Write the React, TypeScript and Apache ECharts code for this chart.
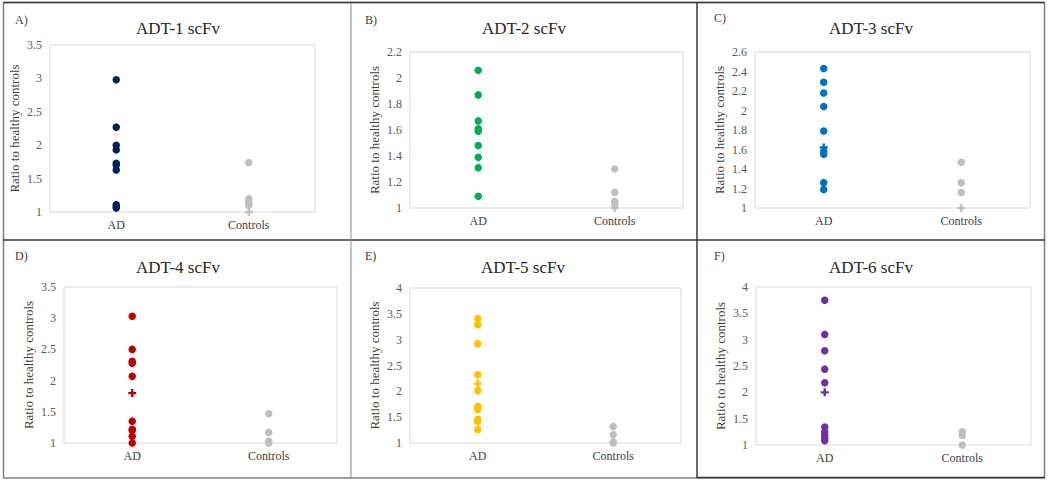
import React, { useEffect, useRef } from "react";
import * as echarts from "echarts";

const categories = ["AD", "Controls"];
const panelLetters = ["A)", "B)", "C)", "D)", "E)", "F)"];
const panelTitles = ["ADT-1 scFv", "ADT-2 scFv", "ADT-3 scFv", "ADT-4 scFv", "ADT-5 scFv", "ADT-6 scFv"];
const adColors = ["#002060", "#00B050", "#0070C0", "#C00000", "#FFC000", "#7030A0"];
const controlColor = "#BFBFBF";

const yMin = [1, 1, 1, 1, 1, 1];
const yMax = [3.5, 2.2, 2.6, 3.5, 4, 4];
const yStep = [0.5, 0.2, 0.2, 0.5, 0.5, 0.5];

const adA = [2.98, 2.27, 2.0, 1.93, 1.73, 1.7, 1.63, 1.11, 1.08, 1.06];
const adB = [2.06, 1.87, 1.67, 1.61, 1.59, 1.48, 1.39, 1.31, 1.09];
const adC = [2.43, 2.29, 2.18, 2.04, 1.79, 1.58, 1.55, 1.26, 1.19];
const adD = [3.03, 2.5, 2.31, 2.28, 2.07, 1.35, 1.22, 1.2, 1.11, 1.0];
const adE = [3.41, 3.29, 2.92, 2.32, 2.01, 1.71, 1.65, 1.46, 1.42, 1.26];
const adF = [3.75, 3.1, 2.79, 2.44, 2.18, 1.34, 1.25, 1.19, 1.13, 1.08];

const adCrossA: number[] = [];
const adCrossB: number[] = [];
const adCrossC = [1.62];
const adCrossD = [1.8];
const adCrossE = [2.15];
const adCrossF = [2.0];

const ctrlA = [1.74, 1.2, 1.17, 1.14, 1.1];
const ctrlB = [1.3, 1.12, 1.05, 1.03];
const ctrlC = [1.47, 1.26, 1.16];
const ctrlD = [1.47, 1.17, 1.03, 1.0];
const ctrlE = [1.32, 1.16, 1.02, 1.0];
const ctrlF = [1.25, 1.18, 1.0];

const ctrlCrossA = [1.0];
const ctrlCrossB = [1.0];
const ctrlCrossC = [1.0];
const ctrlCrossD: number[] = [];
const ctrlCrossE: number[] = [];
const ctrlCrossF: number[] = [];

const adData = [adA, adB, adC, adD, adE, adF];
const adCross = [adCrossA, adCrossB, adCrossC, adCrossD, adCrossE, adCrossF];
const ctrlData = [ctrlA, ctrlB, ctrlC, ctrlD, ctrlE, ctrlF];
const ctrlCross = [ctrlCrossA, ctrlCrossB, ctrlCrossC, ctrlCrossD, ctrlCrossE, ctrlCrossF];

// layout (pixels)
const grids = [
  { left: 50, top: 45, width: 265, height: 167 },
  { left: 410, top: 52, width: 273, height: 156 },
  { left: 755, top: 52, width: 275, height: 156 },
  { left: 64, top: 287, width: 273, height: 156 },
  { left: 410, top: 288, width: 271, height: 155 },
  { left: 756, top: 287, width: 275, height: 158 },
];
const titlePos = [
  [178, 28], [524, 28], [871, 28], [178, 267], [523, 267], [871, 267],
];
const letterPos = [
  [15, 20], [365, 20], [714, 18], [15, 256], [365, 256], [714, 256],
];

const CROSS = "path://M3.5,0H6.5V3.5H10V6.5H6.5V10H3.5V6.5H0V3.5H3.5Z";
const FONT = "'Liberation Serif', 'DejaVu Serif', serif";

export default function App() {
  const ref = useRef<HTMLDivElement>(null);
  useEffect(() => {
    if (!ref.current) return;
    const chart = echarts.init(ref.current, null, { renderer: "svg" });

    const grid: any[] = [];
    const xAxis: any[] = [];
    const yAxis: any[] = [];
    const series: any[] = [];
    const graphic: any[] = [];

    for (let i = 0; i < 6; i++) {
      const g = grids[i];
      grid.push({ ...g, show: true, borderColor: "#D9D9D9", borderWidth: 1, backgroundColor: "transparent" });
      xAxis.push({
        type: "category",
        gridIndex: i,
        data: categories,
        boundaryGap: true,
        axisLine: { show: false },
        axisTick: { show: false },
        axisLabel: { fontFamily: FONT, fontSize: 12, color: "#404040", margin: 7 },
        splitLine: { show: false },
      });
      yAxis.push({
        type: "value",
        gridIndex: i,
        min: yMin[i],
        max: yMax[i],
        interval: yStep[i],
        axisLine: { show: false },
        axisTick: { show: false },
        splitLine: { show: false },
        axisLabel: { fontFamily: FONT, fontSize: 12, color: "#595959", margin: 8 },
        name: "Ratio to healthy controls",
        nameLocation: "middle",
        nameGap: 29,
        nameRotate: 90,
        nameTextStyle: { fontFamily: FONT, fontSize: 13, color: "#404040" },
      });
      series.push({
        type: "scatter",
        xAxisIndex: i,
        yAxisIndex: i,
        symbol: "circle",
        symbolSize: 7.5,
        itemStyle: { color: adColors[i], opacity: 1 },
        data: adData[i].map((v) => [categories[0], v]),
      });
      series.push({
        type: "scatter",
        xAxisIndex: i,
        yAxisIndex: i,
        symbol: CROSS,
        symbolSize: 8,
        itemStyle: { color: adColors[i], opacity: 1 },
        data: adCross[i].map((v) => [categories[0], v]),
      });
      series.push({
        type: "scatter",
        xAxisIndex: i,
        yAxisIndex: i,
        symbol: "circle",
        symbolSize: 7.5,
        itemStyle: { color: controlColor, opacity: 1 },
        data: ctrlData[i].map((v) => [categories[1], v]),
      });
      series.push({
        type: "scatter",
        xAxisIndex: i,
        yAxisIndex: i,
        symbol: CROSS,
        symbolSize: 8,
        itemStyle: { color: controlColor, opacity: 1 },
        data: ctrlCross[i].map((v) => [categories[1], v]),
      });
      graphic.push({
        type: "text",
        x: titlePos[i][0],
        y: titlePos[i][1],
        style: {
          text: panelTitles[i],
          fontFamily: FONT,
          fontSize: 17,
          fill: "#262626",
          align: "center",
          verticalAlign: "middle",
        },
      });
      graphic.push({
        type: "text",
        x: letterPos[i][0],
        y: letterPos[i][1],
        style: {
          text: panelLetters[i],
          fontFamily: FONT,
          fontSize: 12,
          fill: "#404040",
          align: "left",
          verticalAlign: "middle",
        },
      });
    }

    // panel frame lines
    graphic.push({
      type: "rect",
      shape: { x: 3.5, y: 2.5, width: 1041, height: 475.5 },
      style: { fill: "none", stroke: "#7F7F7F", lineWidth: 1.5 },
      silent: true,
    });
    graphic.push({ type: "line", shape: { x1: 3.5, y1: 2.5, x2: 1044.5, y2: 2.5 }, style: { stroke: "#3A3A3A", lineWidth: 1.5 } });
    graphic.push({ type: "line", shape: { x1: 3, y1: 240, x2: 1045, y2: 240 }, style: { stroke: "#3A3A3A", lineWidth: 1.5 } });
    graphic.push({ type: "line", shape: { x1: 351, y1: 3, x2: 351, y2: 478 }, style: { stroke: "#8A8A8A", lineWidth: 1 } });
    graphic.push({ type: "line", shape: { x1: 697, y1: 3, x2: 697, y2: 478 }, style: { stroke: "#3A3A3A", lineWidth: 1.5 } });
    graphic.push({ type: "line", shape: { x1: 697, y1: 477.5, x2: 1045, y2: 477.5 }, style: { stroke: "#3A3A3A", lineWidth: 1.5 } });

    chart.setOption({
      animation: false,
      backgroundColor: "#FFFFFF",
      textStyle: { fontFamily: FONT },
      grid,
      xAxis,
      yAxis,
      series,
      graphic,
    });
    return () => chart.dispose();
  }, []);
  return (
    <div
      ref={ref}
      style={{ position: "absolute", left: 0, top: 0, width: 1050, height: 483 }}
    />
  );
}
